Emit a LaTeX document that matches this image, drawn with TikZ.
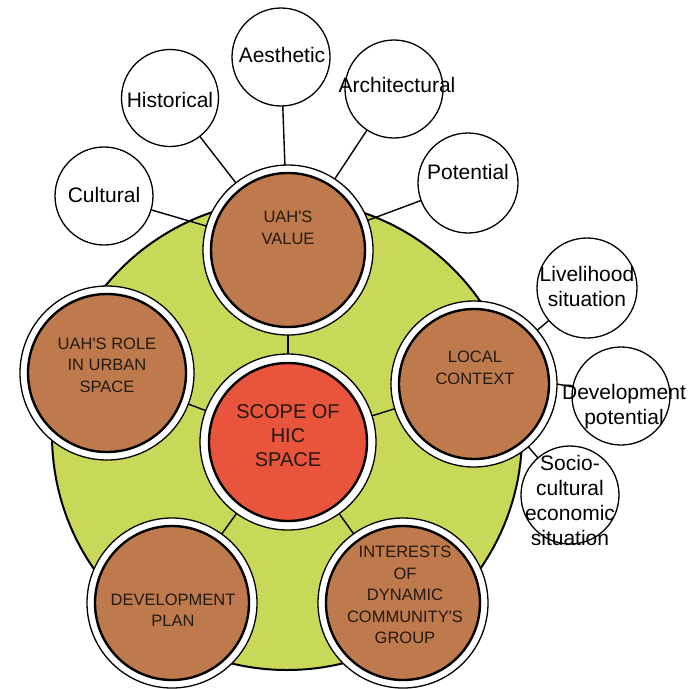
\documentclass[tikz,border=0pt]{standalone}
\usepackage{fontspec}
\setmainfont{Liberation Sans}
\definecolor{bggreen}{RGB}{202,216,90}
\definecolor{brownfill}{RGB}{190,122,76}
\definecolor{redfill}{RGB}{232,84,60}
\definecolor{textdark}{RGB}{35,25,15}
\tikzset{
  ring/.style={circle, draw=black, line width=1.3pt, fill=white, minimum size=#1, inner sep=0pt, outer sep=0pt},
  smallc/.style={circle, draw=black, line width=1.3pt, fill=white, minimum size=#1, inner sep=0pt, outer sep=0pt},
  conn/.style={line width=1.4pt},
  innerb/.style={draw=black, line width=2.4pt, fill=brownfill},
  innerr/.style={draw=black, line width=2.4pt, fill=redfill},
  wtext/.style={font=\fontsize{21}{25}\selectfont, align=center, inner sep=0pt},
  btext/.style={font=\fontsize{16.5}{21.5}\selectfont, align=center, inner sep=0pt, text=textdark},
  rtext/.style={font=\fontsize{20}{24}\selectfont, align=center, inner sep=0pt, text=textdark}
}
\begin{document}
\begin{tikzpicture}[x=1pt,y=-1pt]
\useasboundingbox (0,0) rectangle (688,689);
\fill[white] (0,0) rectangle (688,689);
% background green disc
\node[circle, draw=black, line width=2pt, fill=bggreen, minimum size=470pt, inner sep=0pt] (bg) at (287,435) {};

% main nodes (outer rings)
\node[ring=176pt] (scope) at (288,442) {};
\node[ring=170pt] (value) at (288,250) {};
\node[ring=174pt] (role) at (107,373) {};
\node[ring=166pt] (local) at (474,384) {};
\node[ring=170pt] (plan) at (172,603) {};
\node[ring=170pt] (inter) at (403,603) {};

% small white circles
\node[smallc=98pt] (cult) at (104,196) {};
\node[smallc=97pt] (hist) at (170,98) {};
\node[smallc=98pt] (aest) at (281,57) {};
\node[smallc=98pt] (arch) at (394,89) {};
\node[smallc=100pt] (pot) at (468,183) {};
\node[smallc=100pt] (live) at (587,288) {};
\node[smallc=98pt] (devp) at (621,396) {};
\node[smallc=98pt] (socio) at (570,495) {};

% connectors
\draw[conn] (value) -- (cult);
\draw[conn] (value) -- (hist);
\draw[conn] (value) -- (aest);
\draw[conn] (value) -- (arch);
\draw[conn] (value) -- (pot);
\draw[conn] (local) -- (live);
\draw[conn] (local.east) -- (devp);
\draw[conn] (local) -- (socio);
\draw[conn] (scope) -- (value);
\draw[conn] (scope) -- (role);
\draw[conn] (scope) -- (local);
\draw[conn] (scope) -- (plan);
\draw[conn] (scope) -- (inter);

% inner filled discs
\draw[innerr] (scope.center) circle[radius=79];
\draw[innerb] (value.center) circle[radius=77];
\draw[innerb] (role.center) circle[radius=79];
\draw[innerb] (local.center) circle[radius=75];
\draw[innerb] (plan.center) circle[radius=77];
\draw[innerb] (inter.center) circle[radius=77];

% labels of main circles
\node[rtext] (tscope) at (288,436) {SCOPE OF\\HIC\\SPACE};
\node[btext] (tvalue) at (288,228) {UAH\textquotesingle S\\VALUE};
\node[btext] (trole) at (107,365) {UAH\textquotesingle S ROLE\\IN URBAN\\SPACE};
\node[btext] (tlocal) at (475,368) {LOCAL\\CONTEXT};
\node[btext] (tplan) at (173,610) {DEVELOPMENT\\PLAN};
\node[btext] (tinter) at (405,595) {INTERESTS\\OF\\DYNAMIC\\COMMUNITY\textquotesingle S\\GROUP};

% labels of small circles
\node[wtext] (tcult) at (104,195) {Cultural};
\node[wtext] (thist) at (170,100) {Historical};
\node[wtext] (taest) at (282,55) {Aesthetic};
\node[wtext] (tarch) at (397,85) {Architectural};
\node[wtext] (tpot) at (468,172) {Potential};
\node[wtext] (tlive) at (587,286) {Livelihood\\situation};
\node[wtext] (tdevp) at (624,407) {Development\\potential};
\node[wtext] (tsocio) at (570,500) {Socio-\\cultural\\economic\\situation};
\end{tikzpicture}
\end{document}
